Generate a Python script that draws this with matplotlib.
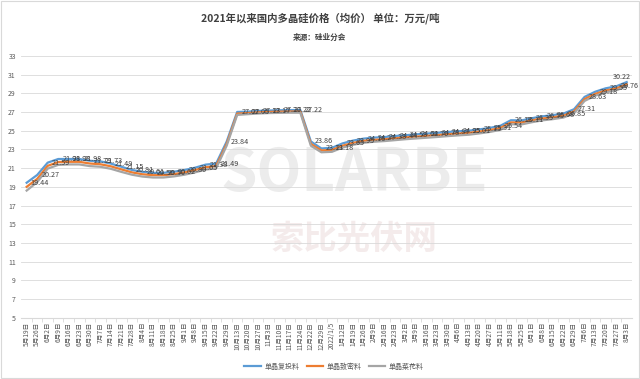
import matplotlib
matplotlib.use("Agg")
import matplotlib.pyplot as plt
from matplotlib.patches import Rectangle

plt.rcParams["font.family"] = ["Noto Sans CJK SC", "DejaVu Sans"]

# weekly quotes, 2021-05-19 .. 2022-08-03 (wan yuan / ton)
dates = ["5月19日", "5月26日", "6月2日", "6月9日", "6月16日", "6月23日", "6月30日",
         "7月7日", "7月14日", "7月21日", "7月28日", "8月4日", "8月11日", "8月18日",
         "8月25日", "9月1日", "9月8日", "9月15日", "9月22日", "9月29日", "10月13日",
         "10月20日", "10月27日", "11月3日", "11月10日", "11月17日", "11月24日",
         "12月22日", "12月29日", "2022/1/5", "1月12日", "1月19日", "1月26日", "2月9日",
         "2月16日", "2月23日", "3月2日", "3月9日", "3月16日", "3月23日", "3月30日",
         "4月6日", "4月13日", "4月20日", "4月27日", "5月11日", "5月18日", "5月25日",
         "6月1日", "6月8日", "6月15日", "6月22日", "6月29日", "7月6日", "7月13日",
         "7月20日", "7月27日", "8月3日"]

futou = [19.44, 20.27, 21.59, 21.98, 21.98, 21.98, 21.79, 21.73, 21.49, 21.15,
         20.81, 20.61, 20.50, 20.50, 20.62, 20.80, 21.05, 21.38, 21.49, 23.84,
         27.02, 27.05, 27.13, 27.17, 27.20, 27.22, 27.22, 23.86, 23.11, 23.18,
         23.65, 23.95, 24.16, 24.27, 24.33, 24.44, 24.53, 24.62, 24.70, 24.78,
         24.87, 24.95, 25.01, 25.15, 25.31, 25.54, 26.13, 26.11, 26.35, 26.55,
         26.68, 26.85, 27.31, 28.63, 29.18, 29.55, 29.76, 30.22]

zhimi = [19.0, 19.85, 21.25, 21.65, 21.68, 21.68, 21.5, 21.42, 21.2, 20.87,
         20.55, 20.35, 20.25, 20.25, 20.36, 20.55, 20.8, 21.1, 21.22, 23.6,
         26.85, 26.9, 26.98, 27.02, 27.05, 27.07, 27.07, 23.6, 22.9, 22.95,
         23.4, 23.7, 23.92, 24.03, 24.1, 24.2, 24.3, 24.38, 24.46, 24.54,
         24.63, 24.71, 24.78, 24.92, 25.08, 25.3, 25.9, 25.88, 26.12, 26.32,
         26.45, 26.62, 27.08, 28.4, 28.95, 29.32, 29.53, 29.98]

caihua = [18.6, 19.5, 20.95, 21.35, 21.4, 21.4, 21.22, 21.15, 20.93, 20.6,
          20.3, 20.1, 20.0, 20.0, 20.12, 20.3, 20.55, 20.85, 20.98, 23.4,
          26.7, 26.78, 26.85, 26.9, 26.92, 26.94, 26.94, 23.4, 22.7, 22.75,
          23.2, 23.5, 23.72, 23.83, 23.9, 24.0, 24.1, 24.18, 24.26, 24.34,
          24.43, 24.51, 24.58, 24.72, 24.88, 25.1, 25.7, 25.68, 25.92, 26.12,
          26.25, 26.42, 26.88, 28.2, 28.75, 29.12, 29.33, 29.78]

series = [("单晶复投料", futou, "#5B9BD5"),
          ("单晶致密料", zhimi, "#ED7D31"),
          ("单晶菜花料", caihua, "#A5A5A5")]

fig = plt.figure(figsize=(6.4, 3.79), dpi=100)
ax = fig.add_axes([0.0334, 0.162, 0.954, 0.690])

x = list(range(len(dates)))
for name, vals, col in series:
    ax.plot(x, vals, color=col, lw=1.6, label=name, zorder=3)

# data labels on the top series; last one pulled inside the frame
last = len(futou) - 1
for i, v in enumerate(futou):
    off = (3, 0) if i < last else (-10, 4)
    ax.annotate(f"{v:.2f}", (i, v), xytext=off, textcoords="offset points",
                va="center", ha="left", fontsize=5.2, color="#404040", zorder=4)

# watermark
ax.text(0.545, 0.55, "SOLARBE", transform=ax.transAxes, ha="center", va="center",
        fontsize=42, fontweight="bold", color="#ececec", zorder=1)
ax.text(0.545, 0.30, "索比光伏网", transform=ax.transAxes, ha="center", va="center",
        fontsize=24, fontweight="bold", color="#f4ebeb", zorder=1)

ax.set_xlim(-0.5, len(dates) - 0.5)
ax.set_ylim(5, 33)
ax.set_yticks(range(5, 34, 2))
ax.set_xticks(x)
ax.set_xticklabels(dates, rotation=90, fontsize=4.8, color="#595959")
ax.tick_params(axis="y", labelsize=5, colors="#595959", length=0, pad=4)
ax.tick_params(axis="x", length=0, pad=3)
ax.set_xticks([i + 0.5 for i in x[:-1]], minor=True)
ax.tick_params(axis="x", which="minor", length=3, color="#d9d9d9")
ax.grid(axis="y", color="#d9d9d9", lw=0.6, zorder=0)
for s in ["top", "right", "left"]:
    ax.spines[s].set_visible(False)
ax.spines["bottom"].set_color("#d9d9d9")

fig.text(0.5, 0.953, "2021年以来国内多晶硅价格（均价） 单位：万元/吨", ha="center",
         va="center", fontsize=7.5, fontweight="bold", color="#404040")
fig.text(0.5, 0.902, "来源：硅业分会", ha="center", va="center",
         fontsize=5.5, fontweight="bold", color="#404040")

fig.legend(loc="center", bbox_to_anchor=(0.522, 0.032), ncol=3, frameon=False,
           fontsize=5, handlelength=2.4, columnspacing=1.0, handletextpad=0.5,
           labelcolor="#595959")

fig.patches.append(Rectangle((0.002, 0.003), 0.996, 0.994, transform=fig.transFigure,
                             fill=False, edgecolor="#d9d9d9", lw=0.8))

fig.savefig("out.png", dpi=100, facecolor="white")
